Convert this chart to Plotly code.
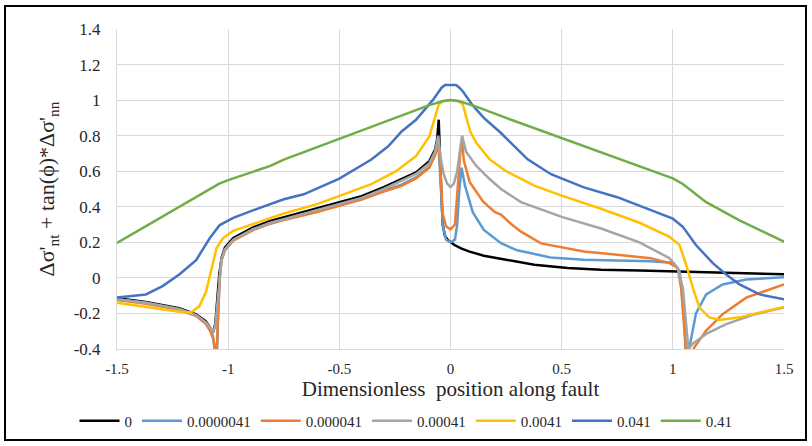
import plotly.graph_objects as go

# ---------------- data ----------------
series_names = ["0", "0.0000041", "0.000041", "0.00041", "0.0041", "0.041", "0.41"]
series_colors = ["#000000", "#5B9BD5", "#ED7D31", "#A5A5A5", "#FFC000", "#4472C4", "#70AD47"]

x_0 = [-1.5,-1.37,-1.22,-1.144,-1.1,-1.08,-1.068,-1.058,-1.05,-1.04,-1.03,-1.015,-0.977,-0.886,-0.81,-0.75,-0.6,-0.5,-0.4,-0.3,-0.22,-0.155,-0.095,-0.07,-0.06,-0.053,-0.045,-0.035,-0.025,-0.012,0.018,0.05,0.086,0.15,0.25,0.377,0.527,0.677,0.85,1.0,1.15,1.3,1.5]
y_0 = [-0.115,-0.135,-0.17,-0.205,-0.245,-0.28,-0.305,-0.26,-0.12,0.02,0.11,0.17,0.225,0.285,0.32,0.34,0.39,0.425,0.46,0.51,0.555,0.593,0.657,0.72,0.78,0.89,0.6,0.3,0.235,0.213,0.185,0.165,0.148,0.125,0.102,0.074,0.056,0.046,0.042,0.037,0.03,0.025,0.02]

x_1 = [-1.5,-1.37,-1.22,-1.144,-1.1,-1.08,-1.068,-1.058,-1.052,-1.045,-1.038,-1.03,-1.015,-0.977,-0.886,-0.81,-0.75,-0.6,-0.5,-0.4,-0.3,-0.22,-0.155,-0.095,-0.07,-0.055,-0.045,-0.035,-0.02,0,0.02,0.03,0.04,0.05,0.065,0.1,0.15,0.2,0.227,0.3,0.45,0.6,0.9,1.0,1.03,1.05,1.06,1.075,1.104,1.15,1.224,1.33,1.5]
y_1 = [-0.12,-0.14,-0.178,-0.212,-0.255,-0.29,-0.33,-0.42,-0.5,-0.2,0.0,0.1,0.158,0.213,0.272,0.308,0.328,0.375,0.41,0.445,0.49,0.525,0.565,0.625,0.69,0.76,0.55,0.3,0.215,0.2,0.215,0.3,0.5,0.62,0.52,0.37,0.27,0.22,0.195,0.155,0.115,0.102,0.093,0.085,0.04,-0.17,-0.5,-0.39,-0.2,-0.093,-0.037,-0.009,0.004]

x_2 = [-1.5,-1.37,-1.22,-1.144,-1.1,-1.08,-1.068,-1.058,-1.052,-1.045,-1.038,-1.03,-1.015,-0.977,-0.886,-0.81,-0.75,-0.6,-0.5,-0.4,-0.3,-0.22,-0.155,-0.095,-0.07,-0.055,-0.045,-0.035,-0.02,0,0.02,0.033,0.045,0.052,0.06,0.086,0.146,0.2,0.227,0.27,0.317,0.407,0.5,0.6,0.75,0.9,0.985,1.022,1.037,1.052,1.062,1.08,1.097,1.15,1.224,1.33,1.5]
y_2 = [-0.125,-0.145,-0.18,-0.215,-0.26,-0.3,-0.34,-0.4,-0.43,-0.2,0.0,0.1,0.155,0.21,0.27,0.305,0.325,0.37,0.406,0.44,0.485,0.518,0.56,0.62,0.69,0.77,0.6,0.36,0.29,0.273,0.3,0.5,0.72,0.77,0.66,0.54,0.43,0.37,0.356,0.306,0.26,0.194,0.17,0.148,0.13,0.111,0.083,0.056,-0.056,-0.26,-0.45,-0.45,-0.39,-0.296,-0.204,-0.111,-0.037]

x_3 = [-1.5,-1.37,-1.22,-1.144,-1.1,-1.08,-1.068,-1.058,-1.05,-1.04,-1.03,-1.015,-0.977,-0.886,-0.81,-0.75,-0.6,-0.5,-0.4,-0.3,-0.22,-0.155,-0.095,-0.07,-0.055,-0.045,-0.03,-0.015,0,0.015,0.03,0.045,0.052,0.07,0.116,0.176,0.227,0.317,0.5,0.677,0.85,0.985,1.022,1.045,1.06,1.07,1.09,1.15,1.24,1.37,1.5]
y_3 = [-0.12,-0.14,-0.175,-0.21,-0.25,-0.28,-0.3,-0.27,-0.15,0.0,0.1,0.16,0.215,0.275,0.31,0.33,0.38,0.416,0.45,0.5,0.545,0.585,0.645,0.71,0.8,0.68,0.58,0.53,0.51,0.53,0.6,0.74,0.8,0.71,0.63,0.556,0.5,0.426,0.343,0.278,0.2,0.111,0.056,-0.056,-0.24,-0.4,-0.37,-0.315,-0.26,-0.204,-0.167]

x_4 = [-1.5,-1.37,-1.22,-1.167,-1.13,-1.1,-1.083,-1.065,-1.053,-1.023,-0.977,-0.886,-0.81,-0.75,-0.6,-0.5,-0.356,-0.245,-0.155,-0.095,-0.065,-0.053,-0.035,0,0.035,0.056,0.07,0.09,0.116,0.176,0.25,0.377,0.5,0.677,0.85,0.985,1.03,1.06,1.09,1.12,1.164,1.21,1.3,1.5]
y_4 = [-0.14,-0.165,-0.19,-0.195,-0.16,-0.08,0.0,0.1,0.167,0.223,0.265,0.305,0.34,0.362,0.415,0.462,0.527,0.6,0.685,0.796,0.926,0.975,0.995,1.0,0.995,0.975,0.907,0.82,0.76,0.667,0.6,0.519,0.463,0.389,0.31,0.231,0.185,0.074,-0.056,-0.167,-0.222,-0.237,-0.222,-0.163]

x_5 = [-1.5,-1.37,-1.295,-1.22,-1.144,-1.083,-1.038,-0.977,-0.886,-0.81,-0.75,-0.66,-0.5,-0.356,-0.28,-0.22,-0.155,-0.08,-0.04,-0.025,0.025,0.04,0.055,0.1,0.15,0.227,0.27,0.347,0.452,0.6,0.75,0.9,1.0,1.045,1.104,1.18,1.24,1.3,1.39,1.5]
y_5 = [-0.11,-0.093,-0.046,0.019,0.10,0.223,0.297,0.338,0.381,0.415,0.442,0.47,0.558,0.666,0.74,0.824,0.889,1.0,1.07,1.085,1.085,1.07,1.05,0.97,0.9,0.815,0.76,0.667,0.583,0.509,0.454,0.38,0.333,0.287,0.185,0.083,0.019,-0.037,-0.093,-0.12]

x_6 = [-1.5,-1.4,-1.3,-1.2,-1.1,-1.04,-1.0,-0.81,-0.75,-0.5,-0.245,-0.095,-0.035,0,0.04,0.116,0.25,0.5,0.85,1.0,1.045,1.15,1.3,1.5]
y_6 = [0.197,0.27,0.34,0.415,0.49,0.53,0.55,0.63,0.665,0.782,0.898,0.972,0.994,1.0,0.994,0.963,0.9,0.787,0.63,0.56,0.528,0.426,0.324,0.204]

xs = [x_0, x_1, x_2, x_3, x_4, x_5, x_6]
ys = [y_0, y_1, y_2, y_3, y_4, y_5, y_6]

x_tickvals = [-1.5, -1, -0.5, 0, 0.5, 1, 1.5]
x_ticktext = ["-1.5", "-1", "-0.5", "0", "0.5", "1", "1.5"]
y_tickvals = [-0.4, -0.2, 0, 0.2, 0.4, 0.6, 0.8, 1.0, 1.2, 1.4]
y_ticktext = ["-0.4", "-0.2", "0", "0.2", "0.4", "0.6", "0.8", "1", "1.2", "1.4"]

x_title = "Dimensionless  position along fault"
y_title = "Δσ'<sub>nt</sub> + tan(ϕ)*Δσ'<sub>nn</sub>"

# ---------------- figure ----------------
FONT = "Liberation Serif"
fig = go.Figure()
for name, col, xv, yv in zip(series_names, series_colors, xs, ys):
    fig.add_trace(go.Scatter(x=xv, y=yv, mode="lines", name=name,
                             line=dict(color=col, width=2.5)))

L, R, T, B = 117, 28, 29, 97
W, H = 812, 446
pw, ph = W - L - R, H - T - B

fig.update_layout(
    width=W, height=H,
    margin=dict(l=L, r=R, t=T, b=B, autoexpand=False),
    paper_bgcolor="white", plot_bgcolor="white",
    font=dict(family=FONT, color="#262626", size=15),
    showlegend=True,
    legend=dict(orientation="h", xref="container", yref="container",
                x=0.5, xanchor="center", y=1 - 421 / H, yanchor="middle",
                font=dict(family=FONT, size=15, color="#262626"),
                itemwidth=40, tracegroupgap=0),
    xaxis=dict(range=[-1.5, 1.5], tickvals=x_tickvals, ticktext=x_ticktext,
               showgrid=True, gridcolor="#d9d9d9", gridwidth=1,
               zeroline=False, showline=True, linecolor="#d9d9d9",
               ticks="", ticklabelstandoff=6, tickfont=dict(family=FONT, size=15),
               title=dict(text=x_title, font=dict(family=FONT, size=21), standoff=2)),
    yaxis=dict(range=[-0.4, 1.4], tickvals=y_tickvals, ticktext=y_ticktext,
               showgrid=True, gridcolor="#d9d9d9", gridwidth=1,
               zeroline=False, showline=True, linecolor="#d9d9d9",
               ticks="", ticklabelstandoff=12, tickfont=dict(family=FONT, size=17),
               title=dict(text=y_title, font=dict(family=FONT, size=22), standoff=12)),
)

# outer frame around the whole chart
fig.add_shape(type="rect", xref="paper", yref="paper",
              x0=(5 - L) / pw, x1=(806 - L) / pw,
              y0=(H - B - 440) / ph, y1=(H - B - 6) / ph,
              line=dict(color="black", width=2), fillcolor="rgba(0,0,0,0)", layer="above")

fig.write_html("out.html")
